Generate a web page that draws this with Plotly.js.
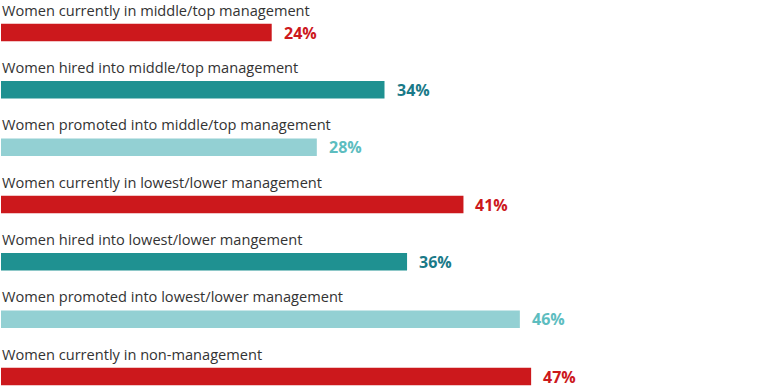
<!DOCTYPE html>
<html>
<head>
<meta charset="utf-8">
<script src="https://cdn.plot.ly/plotly-3.0.1.min.js"></script>
<style>html,body{margin:0;padding:0;background:#fff;}#chart{width:768px;height:390px;}</style>
</head>
<body>
<div id="chart"></div>
<script>
const categories = [
  "Women currently in middle/top management",
  "Women hired into middle/top management",
  "Women promoted into middle/top management",
  "Women currently in lowest/lower management",
  "Women hired into lowest/lower mangement",
  "Women promoted into lowest/lower management",
  "Women currently in non-management"
];
const values = [24, 34, 28, 41, 36, 46, 47];
const valueLabels = ["24%", "34%", "28%", "41%", "36%", "46%", "47%"];
const barColors = ["#cc181c", "#1f9191", "#93d0d3", "#cc181c", "#1f9191", "#93d0d3", "#cc181c"];
const textColors = ["#cc181c", "#1a7a88", "#5dbdbf", "#cc181c", "#1a7a88", "#5dbdbf", "#cc181c"];

const trace = {
  type: "bar",
  orientation: "h",
  x: values,
  y: categories,
  marker: {color: barColors},
  width: 0.305,
  hoverinfo: "none"
};

const annotations = [];
categories.forEach((c, i) => {
  annotations.push({
    x: 0, y: c, xref: "x", yref: "y",
    text: c, showarrow: false, xanchor: "left", yanchor: "middle",
    yshift: 23, xshift: -1,
    font: {family: "Open Sans, sans-serif", size: 14.6, color: "#333333"}
  });
  annotations.push({
    x: values[i], y: c, xref: "x", yref: "y",
    text: "<b>" + valueLabels[i] + "</b>", showarrow: false, xanchor: "left", yanchor: "middle",
    xshift: 10,
    font: {family: "Open Sans, sans-serif", size: 16, color: textColors[i]}
  });
});

const layout = {
  width: 768, height: 390,
  margin: {l: 1, r: 0, t: 0, b: 0},
  paper_bgcolor: "#ffffff", plot_bgcolor: "#ffffff",
  showlegend: false,
  xaxis: {range: [0, 68], visible: false, fixedrange: true},
  yaxis: {type: "category", categoryarray: categories, range: [6.235, -0.567], visible: false, fixedrange: true},
  annotations: annotations
};

Plotly.newPlot("chart", [trace], layout, {displayModeBar: false, staticPlot: true});
</script>
</body>
</html>
